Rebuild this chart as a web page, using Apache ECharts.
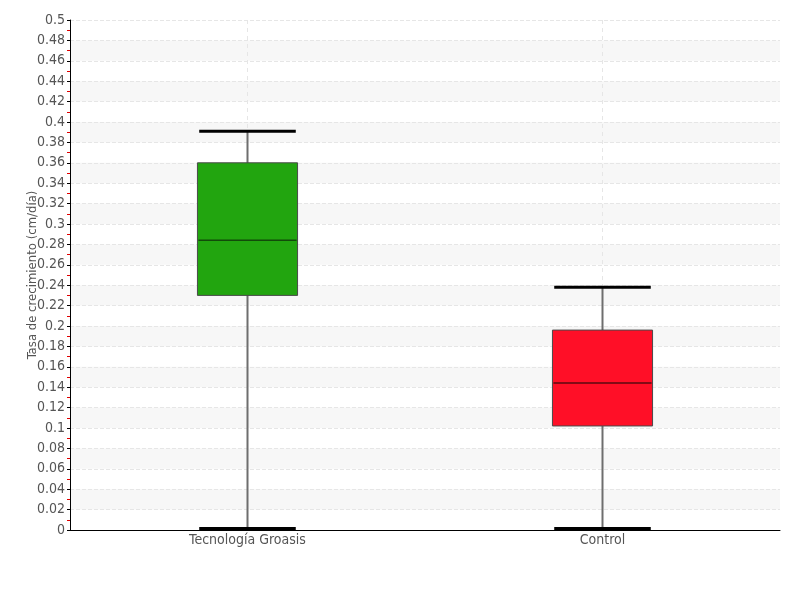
<!DOCTYPE html>
<html><head><meta charset="utf-8">
<script src="https://cdn.jsdelivr.net/npm/echarts@6/dist/echarts.min.js"></script>
<style>html,body{margin:0;padding:0;background:#fff}#c{width:800px;height:600px}</style>
</head><body><div id="c"></div>
<script>
const categories = ['Tecnología Groasis', 'Control'];
const whiskerLow = [0.0, 0.0];
const q1 = [0.230, 0.102];
const median = [0.284, 0.144];
const q3 = [0.360, 0.196];
const whiskerHigh = [0.391, 0.238];
const fillColors = ['#22a50f', '#ff0f27'];
const medianColors = ['#124a0a', '#5a0a10'];

const data = categories.map((c, i) => [i, whiskerLow[i], q1[i], median[i], q3[i], whiskerHigh[i]]);
const FONT = '"DejaVu Sans Condensed", "Liberation Sans Narrow", sans-serif';

const chart = echarts.init(document.getElementById('c'));
chart.setOption({
  animation: false,
  grid: { left: 70, right: 20, top: 20, bottom: 70 },
  xAxis: {
    type: 'category', data: categories, boundaryGap: true,
    axisLine: { lineStyle: { color: '#000', width: 1 } },
    axisTick: { show: false },
    axisLabel: { color: '#555', fontFamily: FONT, fontSize: 14, margin: 3 },
    splitLine: { show: false }
  },
  yAxis: {
    type: 'value', min: 0, max: 0.5, interval: 0.02,
    name: 'Tasa de crecimiento (cm/día)', nameLocation: 'middle', nameGap: 31,
    nameMoveOverlap: false,
    nameTextStyle: { color: '#555', fontFamily: FONT, fontSize: 13 },
    axisLine: { show: true, lineStyle: { color: '#000', width: 1 } },
    axisTick: { show: true, length: 3, lineStyle: { color: '#000' } },
    minorTick: { show: true, splitNumber: 2, length: 3, lineStyle: { color: '#e00000' } },
    axisLabel: { color: '#555', fontFamily: FONT, fontSize: 14, margin: 5,
      formatter: v => String(Math.round(v * 100) / 100) },
    splitLine: { show: true, lineStyle: { color: '#e6e6e6', type: 'dashed', width: 1 } },
    splitArea: { show: true, areaStyle: { color: ['rgba(255,255,255,0)', '#f7f7f7'] } }
  },
  series: [{
    type: 'custom',
    data: data,
    encode: { x: 0, y: [1, 2, 3, 4, 5] },
    renderItem: function (params, api) {
      const i = api.value(0);
      const band = api.size([1, 0])[0];
      const bw = band * 0.282;
      const cw = band * 0.272;
      const pLow = api.coord([i, api.value(1)]);
      const pQ1 = api.coord([i, api.value(2)]);
      const pMed = api.coord([i, api.value(3)]);
      const pQ3 = api.coord([i, api.value(4)]);
      const pHigh = api.coord([i, api.value(5)]);
      const pTop = api.coord([i, 0.5]);
      const x = pQ1[0];
      return {
        type: 'group',
        children: [
          { type: 'line', shape: { x1: x, y1: pTop[1], x2: x, y2: pLow[1] },
            style: { stroke: '#e6e6e6', lineWidth: 1, lineDash: [4, 4] } },
          { type: 'line', shape: { x1: x, y1: pLow[1], x2: x, y2: pHigh[1] },
            style: { stroke: '#6e6e6e', lineWidth: 2 } },
          { type: 'rect', shape: { x: x - bw / 2, y: pQ3[1], width: bw, height: pQ1[1] - pQ3[1] },
            style: { fill: fillColors[i], stroke: '#4a4a4a', lineWidth: 1 } },
          { type: 'line', shape: { x1: x - bw / 2 + 1, y1: pMed[1], x2: x + bw / 2 - 1, y2: pMed[1] },
            style: { stroke: medianColors[i], lineWidth: 1.5 } },
          { type: 'line', shape: { x1: x - cw / 2, y1: pHigh[1], x2: x + cw / 2, y2: pHigh[1] },
            style: { stroke: '#000', lineWidth: 3 } },
          { type: 'line', shape: { x1: x - cw / 2, y1: pLow[1] - 1.5, x2: x + cw / 2, y2: pLow[1] - 1.5 },
            style: { stroke: '#000', lineWidth: 3 } }
        ]
      };
    }
  }]
});
</script></body></html>
